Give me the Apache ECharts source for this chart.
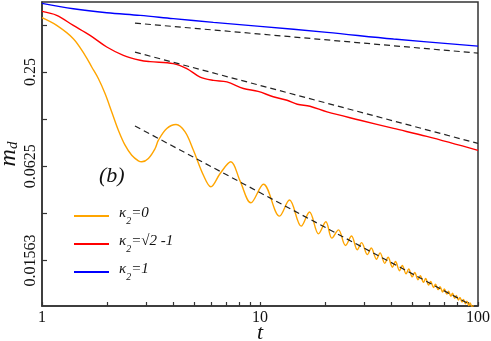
<!DOCTYPE html>
<html>
<head>
<meta charset="utf-8">
<script src="https://cdn.jsdelivr.net/npm/echarts@6/dist/echarts.min.js"></script>
<style>
  html, body { margin: 0; padding: 0; background: #fff; }
  #chart { width: 491px; height: 341px; }
</style>
</head>
<body>
<div id="chart"></div>
<script>
// kappa2 = 0 (oscillating curve)
var orangeT = [1, 1.168, 1.392, 1.576, 1.691, 1.813, 1.946, 2.089, 2.24, 2.404,
  2.58, 2.767, 2.869, 3.076, 3.302, 3.42, 3.736, 4.12, 4.533, 4.95,
  5.501, 5.95, 6.564, 7.349, 8.109, 9.08, 10.37, 12.29, 13.65, 15.45,
  16.87, 18.55, 20.05, 21.37, 22.9, 24.67, 26.3, 27.94, 29.25, 31.08,
  32.39, 34.22, 35.54, 37.37, 38.68, 40.51, 41.82, 43.65, 44.96, 46.79,
  48.1, 49.93, 51.24, 53.07, 54.39, 56.22, 57.53, 59.36, 60.67, 62.5,
  63.81, 65.64, 66.95, 68.78, 70.09, 71.92, 73.23, 75.07, 76.38, 78.21,
  79.52, 81.35, 82.66, 84.49, 85.8, 87.63, 88.94, 90.77, 92.08, 93.91, 95.23];
var orangeM = [0.556, 0.496, 0.408, 0.3195, 0.269, 0.227, 0.182, 0.1389, 0.1062, 0.0852,
  0.0735, 0.0677, 0.0667, 0.0701, 0.0811, 0.0917, 0.1089, 0.1155, 0.1036, 0.0791,
  0.0548, 0.0462, 0.0562, 0.0667, 0.0502, 0.0365, 0.048, 0.03, 0.038, 0.0259,
  0.0319, 0.0231, 0.0276, 0.0217, 0.0245, 0.0195, 0.0224, 0.01829, 0.02033, 0.01703,
  0.01879, 0.01593, 0.01748, 0.01498, 0.01637, 0.01416, 0.01539, 0.01345, 0.01453, 0.01283,
  0.01378, 0.01227, 0.0131, 0.01178, 0.01249, 0.01133, 0.01199, 0.01088, 0.01148, 0.01051,
  0.01102, 0.01018, 0.01064, 0.00983, 0.01028, 0.00952, 0.00994, 0.00923, 0.00964, 0.00896,
  0.00933, 0.00873, 0.00907, 0.00849, 0.00882, 0.00826, 0.00859, 0.00805, 0.00837, 0.00784, 0.0081];

// kappa2 = sqrt(2)-1
var redT = [1, 1.168, 1.392, 1.661, 1.982, 2.362, 2.818, 3.131, 4.0, 4.615,
  5.313, 6.114, 7.05, 8.395, 9.8, 11.5, 13.3, 14.83, 16.95, 20.3,
  28.8, 41, 58.2, 100];
var redM = [0.6095, 0.575, 0.496, 0.4285, 0.361, 0.3195, 0.297, 0.291, 0.283, 0.263,
  0.232, 0.221, 0.216, 0.196, 0.188, 0.1738, 0.165, 0.1556, 0.151, 0.139,
  0.123, 0.109, 0.097, 0.079];

// kappa2 = 1
var blueT = [1, 1.392, 1.982, 2.818, 4.0, 6.11, 10, 20.3, 41, 100];
var blueM = [0.686, 0.634, 0.598, 0.575, 0.548, 0.519, 0.489, 0.448, 0.406, 0.366];

// power law guides (dashed)
var guideT = [2.67, 100];
var orangeGuideT = [2.67, 90];
var blueGuideM = [0.513, 0.33];
var redGuideM = [0.335, 0.0874];
var orangeGuideM = [0.113, 0.0083];

var names = ['k0', 'k1', 'k2'];
var legendText = ['{k|κ}{s|2}{k|=0}', '{k|κ}{s|2}{k|=√2 -1}', '{k|κ}{s|2}{k|=1}'];

// axes
var xTicks = [1, 2, 3, 4, 5, 6, 7, 8, 9, 10, 20, 30, 40, 50, 60, 70, 80, 90, 100];
var xLabels = [1, 10, 100];
var yTicks = [0.015625, 0.03125, 0.0625, 0.125, 0.25, 0.5];
var yLabels = [0.015625, 0.0625, 0.25];
var yLabelText = ['0.01563', '0.0625', '0.25'];

function zip(a, b) {
    var out = [];
    for (var i = 0; i < a.length; i++) out.push([a[i], b[i]]);
    return out;
}

var serif = 'Liberation Serif';
var axisColor = '#333';

var chart = echarts.init(document.getElementById('chart'));

function curve(name, t, m, color) {
    return {
        name: name, type: 'line', data: zip(t, m),
        smooth: 0.35, symbol: 'none',
        lineStyle: { color: color, width: 1.4 },
        itemStyle: { color: color }
    };
}
function guide(t, m) {
    return {
        type: 'line', data: zip(t, m), symbol: 'none', silent: true,
        lineStyle: { color: '#222', width: 1.2, type: [6, 4] }
    };
}

var option = {
    animation: false,
    title: {
        text: '(b)', left: 94, top: 160,
        textStyle: { fontFamily: serif, fontStyle: 'italic', fontWeight: 'normal', fontSize: 22, color: '#111' }
    },
    grid: {
        left: 42, right: 13, top: 2, bottom: 35,
        outerBoundsMode: 'none',
        show: true, borderColor: axisColor, borderWidth: 1.5, backgroundColor: 'transparent'
    },
    legend: {
        orient: 'vertical', left: 69, top: 201,
        icon: 'rect', itemWidth: 35, itemHeight: 2, itemGap: 8,
        data: names,
        formatter: function (n) { return legendText[names.indexOf(n)]; },
        textStyle: {
            padding: [0, 0, 0, 5],
            rich: {
                k: { fontFamily: serif, fontStyle: 'italic', fontSize: 15, color: '#111', lineHeight: 20, verticalAlign: 'top' },
                s: { fontFamily: serif, fontStyle: 'italic', fontSize: 10, color: '#111', lineHeight: 10, verticalAlign: 'bottom', padding: [10, 0, 0, 0] }
            }
        }
    },
    xAxis: {
        type: 'log', logBase: 10, min: 1, max: 100,
        name: 't', nameLocation: 'middle', nameGap: 16, nameMoveOverlap: false,
        nameTextStyle: { fontFamily: serif, fontStyle: 'italic', fontSize: 22, color: '#111' },
        axisLine: { lineStyle: { color: axisColor, width: 1.5 } },
        axisTick: { show: true, inside: true, length: 4, customValues: xTicks, lineStyle: { color: axisColor, width: 1.2 } },
        axisLabel: {
            customValues: xLabels, margin: 4,
            fontFamily: serif, fontSize: 16, color: '#111'
        },
        minorTick: { show: false },
        splitLine: { show: false }
    },
    yAxis: {
        type: 'log', logBase: 2, min: 0.008, max: 0.7,
        name: '{m|m}{d|d}', nameLocation: 'middle', nameGap: 21, nameRotate: 90, nameMoveOverlap: false,
        nameTextStyle: {
            rich: {
                m: { fontFamily: serif, fontStyle: 'italic', fontSize: 24, color: '#111', lineHeight: 24, verticalAlign: 'top' },
                d: { fontFamily: serif, fontStyle: 'italic', fontSize: 15, color: '#111', lineHeight: 15, verticalAlign: 'bottom', padding: [14, 0, 0, 0] }
            }
        },
        axisLine: { lineStyle: { color: axisColor, width: 1.5 } },
        axisTick: { show: true, inside: true, length: 5, customValues: yTicks, lineStyle: { color: axisColor, width: 1.2 } },
        axisLabel: {
            customValues: yLabels, rotate: 90, margin: 3,
            fontFamily: serif, fontSize: 16, color: '#111',
            formatter: function (v) {
                for (var i = 0; i < yLabels.length; i++) {
                    if (Math.abs(v - yLabels[i]) < 1e-6) return yLabelText[i];
                }
                return '';
            }
        },
        minorTick: { show: false },
        splitLine: { show: false }
    },
    series: [
        curve('k0', orangeT, orangeM, '#ffa500'),
        curve('k1', redT, redM, '#ff0000'),
        curve('k2', blueT, blueM, '#0000ff'),
        guide(guideT, blueGuideM),
        guide(guideT, redGuideM),
        guide(orangeGuideT, orangeGuideM)
    ]
};

chart.setOption(option);
</script>
</body>
</html>
